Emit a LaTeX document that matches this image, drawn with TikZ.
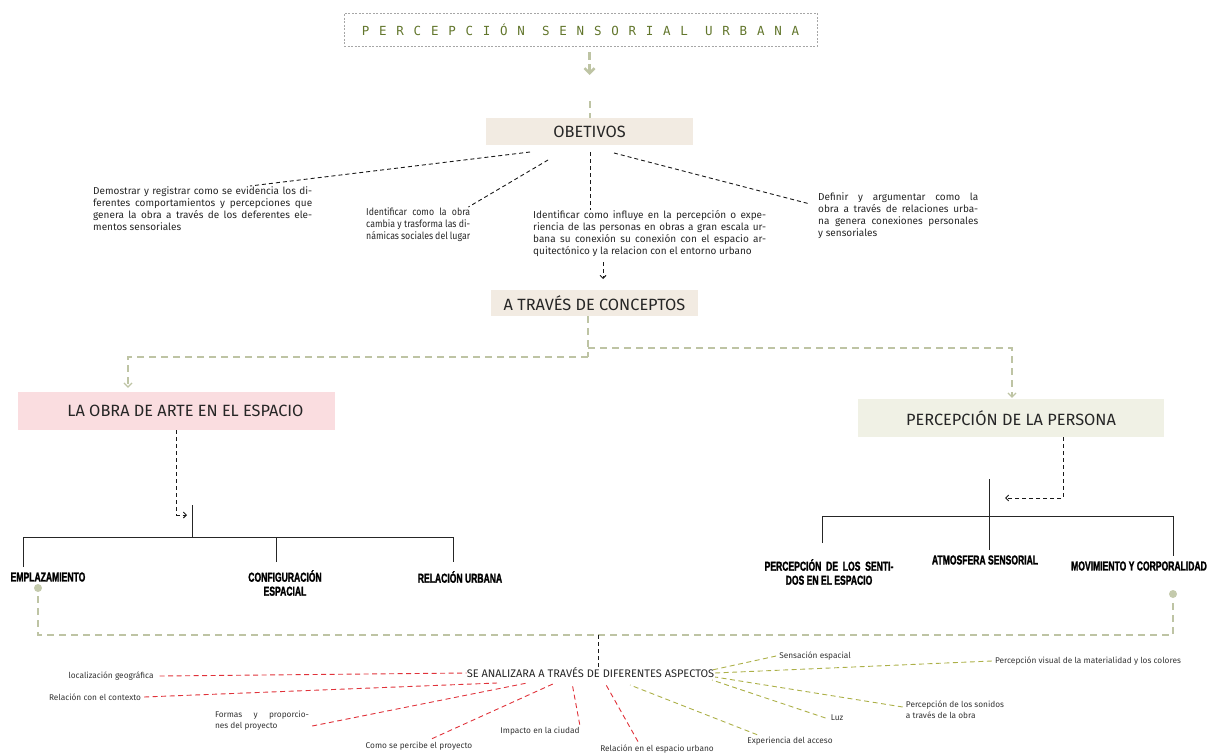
\documentclass[tikz,border=0pt]{standalone}
\usepackage{fontspec}
\setmainfont{Fira Sans}
\newfontfamily\letrastitulo[LetterSpace=78]{DejaVu Sans Mono}
\newfontfamily\letrasrama[FakeStretch=0.66, FakeBold=1.5]{Liberation Sans}
\newfontfamily\letrasestrechas[FakeStretch=0.88]{Fira Sans}
\usetikzlibrary{arrows.meta}

\definecolor{salvia}{RGB}{190,196,164}
\definecolor{puntoverde}{RGB}{196,202,172}
\definecolor{olivatxt}{RGB}{98,118,44}
\definecolor{beige}{RGB}{242,235,226}
\definecolor{rosa}{RGB}{250,221,224}
\definecolor{grisverde}{RGB}{240,241,229}
\definecolor{rojizo}{RGB}{224,50,58}
\definecolor{olivo}{RGB}{172,176,72}

\begin{document}
\begin{tikzpicture}[x=1pt, y=-1pt,
  caja/.style={rectangle, inner sep=0pt, text=black!85, font=\fontsize{16.3}{18}\selectfont},
  parrafo/.style={anchor=north west, inner sep=0pt, align=justify, text=black!85, font=\fontsize{10}{12}\selectfont},
  rama/.style={inner sep=0pt, align=center, font=\letrasrama\bfseries\fontsize{13}{14}\selectfont},
  aspecto/.style={inner sep=0pt, align=left, text=black!80, font=\fontsize{8.3}{11}\selectfont},
  lineaverde/.style={draw=salvia, line width=2pt, dash pattern=on 7pt off 5pt},
  lineanegra/.style={draw=black!90, line width=0.9pt, dash pattern=on 4pt off 3pt},
  linearoja/.style={draw=rojizo, line width=0.9pt, dash pattern=on 5pt off 3.5pt},
  lineaoliva/.style={draw=olivo, line width=0.9pt, dash pattern=on 5pt off 3.5pt},
  arbol/.style={draw=black!85, line width=1pt},
  punta/.style={-{Straight Barb[length=3pt,width=6pt]}}
]

  %% ════ cabecera ════
  \node[draw=gray!70, dash pattern=on 2pt off 1.5pt, line width=0.8pt, minimum width=473pt,
        minimum height=33pt, inner sep=0pt, text=olivatxt,
        font=\letrastitulo\fontsize{12.5}{14}\selectfont] (titulo) at (580.5,29.5)
        {PERCEPCIÓN SENSORIAL URBANA};
  \node[caja, fill=beige, minimum width=207pt, minimum height=27pt] (obj) at (589.5,131.5) {OBETIVOS};

  \coordinate (flechaT) at (589.5,75);
  \coordinate (corteT) at (589.5,101);
  \draw[lineaverde, line width=2.5pt, dash pattern=on 8pt off 4pt, shorten <=6pt,
        -{Straight Barb[length=5pt,width=10pt]}] (titulo.south -| flechaT) -- (flechaT);
  \draw[lineaverde] (corteT) -- (obj.north);

  %% ════ objetivos ════
  \node[parrafo, text width=219pt] (t1) at (93,186)
    {Demostrar y registrar como se evidencia los di-\linebreak ferentes comportamientos y percepciones que\linebreak genera la obra a través de los deferentes ele-\linebreak mentos sensoriales};
  \node[parrafo, text width=104pt, font=\letrasestrechas\fontsize{10}{12}\selectfont] (t2) at (366,207)
    {Identificar como la obra\linebreak cambia y trasforma las di-\linebreak námicas sociales del lugar};
  \node[parrafo, text width=233pt] (t3) at (533,210)
    {Identificar como influye en la percepción o expe-\linebreak riencia de las personas en obras a gran escala ur-\linebreak bana su conexión su conexión con el espacio ar-\linebreak quitectónico y la relacion con el entorno urbano};
  \node[parrafo, text width=160pt] (t4) at (818,192)
    {Definir y argumentar como la\linebreak obra a través de relaciones urba-\linebreak na genera conexiones personales\linebreak y sensoriales};

  \coordinate (o1) at (530,152);
  \coordinate (o2) at (548,160);
  \coordinate (o3) at (590,152);
  \coordinate (o4) at (614,153);
  \draw[lineanegra] (o1) -- ([xshift=157pt]t1.north west);
  \draw[lineanegra] (o2) -- ([xshift=-2pt]t2.north east);
  \draw[lineanegra] (o3) -- (o3 |- t3.north);
  \draw[lineanegra] (o4) -- ([xshift=-8pt,yshift=-12pt]t4.north west);

  %% ════ conceptos ════
  \node[caja, fill=beige, minimum width=207pt, minimum height=26pt] (conc) at (594.5,303) {A TRAVÉS DE CONCEPTOS};
  \coordinate (c1) at (603,262);
  \coordinate (c2) at (603,279);
  \draw[lineanegra, punta] (c1) -- (c2);

  \node[caja, fill=rosa, minimum width=317pt, minimum height=38pt] (obra) at (176.5,411) {\hspace*{18pt}LA OBRA DE ARTE EN EL ESPACIO};
  \node[caja, fill=grisverde, minimum width=306pt, minimum height=38pt] (pers) at (1011,418) {PERCEPCIÓN DE LA PERSONA};

  \coordinate (ramaA) at (588,357);
  \coordinate (ramaB) at (588,348);
  \draw[lineaverde] (conc.south -| ramaA) -- (ramaA);
  \draw[lineaverde, -{Straight Barb[length=4pt,width=8pt,line width=1.2pt]}]
        (ramaA) -| ([yshift=4pt]obra.north -| 128,0);
  \draw[lineaverde, -{Straight Barb[length=4pt,width=8pt,line width=1.2pt]}]
        (ramaB) -| ([yshift=1pt]pers.north -| 1012,0);

  %% ════ arbol izquierdo ════
  \coordinate (flechaL) at (187,515);
  \draw[lineanegra, punta] (obra.south) |- (flechaL);
  \coordinate (hubL) at (192,505);
  \coordinate (barL) at (192,537);
  \coordinate (bL1) at (23,567);
  \coordinate (bL2) at (276,562);
  \coordinate (bL3) at (453,562);
  \draw[arbol] (hubL) -- (barL);
  \draw[arbol] (bL1) -- (bL1 |- barL) -- (bL3 |- barL) -- (bL3);
  \draw[arbol] (bL2) -- (bL2 |- barL);

  \node[rama] (empl) at (48,577) {EMPLAZAMIENTO};
  \node[rama] (conf) at (285,583) {CONFIGURACIÓN\\ESPACIAL};
  \node[rama] (relu) at (460,577) {RELACIÓN URBANA};

  %% ════ arbol derecho ════
  \coordinate (persB) at (1063,437);
  \coordinate (flechaR) at (1005,498);
  \draw[lineanegra, punta] (persB) |- (flechaR);
  \coordinate (hubR) at (989,479);
  \coordinate (barR) at (989,516);
  \coordinate (bR1) at (822,543);
  \coordinate (bR2) at (989,550);
  \coordinate (bR3) at (1173,556);
  \draw[arbol] (hubR) -- (bR2);
  \draw[arbol] (bR1) -- (bR1 |- barR) -- (bR3 |- barR) -- (bR3);

  \node[rama] (sent) at (829,572) {PERCEPCIÓN\ \ DE\ \ LOS\ \ SENTI-\\DOS EN EL ESPACIO};
  \node[rama] (atm) at (985,560) {ATMOSFERA SENSORIAL};
  \node[rama] (mov) at (1139,566) {MOVIMIENTO Y CORPORALIDAD};

  %% ════ union inferior ════
  \node[circle, fill=puntoverde, minimum size=8pt, inner sep=0pt] (dotL) at (38,588) {};
  \node[circle, fill=puntoverde, minimum size=8pt, inner sep=0pt] (dotR) at (1173,594) {};
  \coordinate (bajo) at (598,635);
  \draw[lineaverde, shorten <=4pt] (dotL) |- (bajo);
  \draw[lineaverde, shorten >=4pt] (bajo) -| (dotR);

  \node[inner sep=0pt, text=black!85, font=\fontsize{11}{12}\selectfont] (asp) at (590.5,673)
    {SE ANALIZARA A TRAVÉS DE DIFERENTES ASPECTOS};
  \draw[lineanegra] (bajo) -- (asp.north -| bajo);

  %% ════ aspectos de la obra (rojo) ════
  \node[aspecto] (loc) at (111,676) {localización geográfica};
  \node[aspecto] (ctx) at (95,697) {Relación con el contexto};
  \node[aspecto, text width=94pt, align=justify] (form) at (262,721) {Formas\ \ y\ \ proporcio-\linebreak nes del proyecto};
  \node[aspecto] (como) at (419,746) {Como se percibe el proyecto};
  \node[aspecto] (imp) at (540,731) {Impacto en la ciudad};
  \node[aspecto] (rel) at (657,749) {Relación en el espacio urbano};

  \coordinate (r2) at (497,683);
  \coordinate (r3) at (527,683);
  \coordinate (r4) at (555,683);
  \coordinate (r5) at (572,683);
  \coordinate (r6) at (605,683);
  \draw[linearoja] ([xshift=6pt]loc.east) -- (asp.west);
  \draw[linearoja] ([xshift=3pt]ctx.east) -- (r2);
  \draw[linearoja] ([xshift=3pt,yshift=-5pt]form.east) -- (r3);
  \draw[linearoja] ([xshift=13pt,yshift=3pt]como.north) -- (r4);
  \draw[linearoja] ([yshift=2pt]imp.north east) -- (r5);
  \draw[linearoja] ([xshift=-19pt,yshift=3pt]rel.north) -- (r6);

  %% ════ aspectos de la persona (oliva) ════
  \node[aspecto] (sens) at (815,656) {Sensación espacial};
  \node[aspecto] (vis) at (1088,661) {Percepción visual de la materialidad y los colores};
  \node[aspecto] (son) at (955,710) {Percepción de los sonidos\\a través de la obra};
  \node[aspecto] (luz) at (837,718) {Luz};
  \node[aspecto] (exp) at (790,741) {Experiencia del acceso};

  \coordinate (g1) at (712,670);
  \coordinate (g3) at (715,677);
  \coordinate (g4) at (712,680);
  \coordinate (g5) at (630,685);
  \draw[lineaoliva] ([xshift=-3pt]sens.west) -- (g1);
  \draw[lineaoliva] ([xshift=-3pt]vis.west) -- (asp.east);
  \draw[lineaoliva] ([xshift=-3pt,yshift=3pt]son.west) -- (g3);
  \draw[lineaoliva] ([xshift=-5pt]luz.west) -- (g4);
  \draw[lineaoliva] ([xshift=10pt,yshift=2pt]exp.north west) -- (g5);

  % lienzo fijo
  \pgfresetboundingbox
  \path[use as bounding box] (0,0) rectangle (1220,755);
\end{tikzpicture}
\end{document}
